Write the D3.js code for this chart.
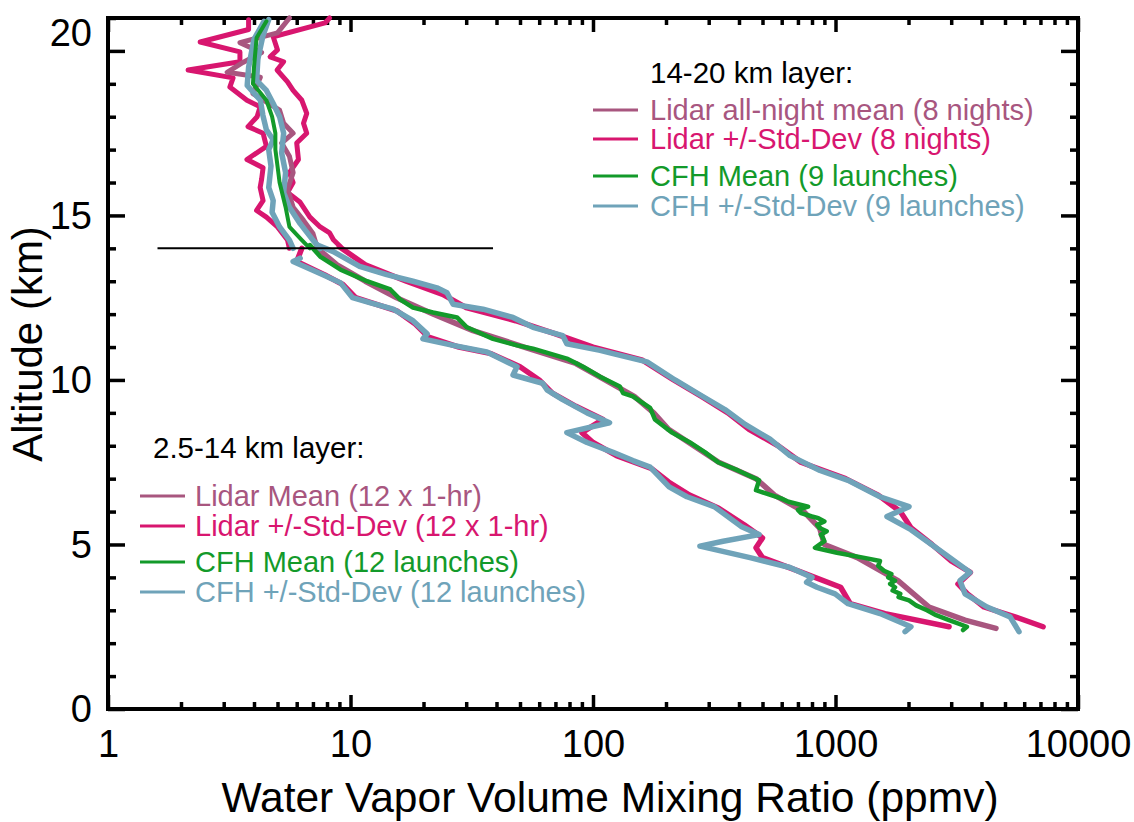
<html>
<head>
<meta charset="utf-8">
<script src="https://d3js.org/d3.v7.min.js"></script>
<style>
	body { margin: 0; background: #fff; }
	text { font-family: "Liberation Sans", Arial, sans-serif; }
</style>
</head>
<body>
<div id="chart"><svg width="1134" height="822"></svg></div>
<script>

// profiles are [altitude km, water vapour ppmv]
// 14-21 km layer
var upperLidarStdLow = [[20.95,3.8],[20.65,3.8],[20.27,2.4],[19.97,3.5],[19.67,3.5],[19.42,2.14],[19.18,3.28],[18.9,3.18],[18.5,3.74],[18.3,4.24],[18.0,4.12],[17.7,3.78],[17.5,4.36],[17.1,4.5],[16.7,3.74],[16.45,4.36],[16.1,4.3],[15.85,4.24],[15.45,4.36],[15.15,4.1],[14.95,4.5],[14.65,5.0],[14.25,5.5],[14.0,5.6]];
var upperLidarStdHigh = [[21.0,8.2],[20.85,7.85],[20.43,4.8],[20.03,5.0],[19.82,4.66],[19.67,5.3],[19.42,4.98],[19.06,5.5],[18.8,5.8],[18.5,6.3],[18.1,6.6],[17.8,6.4],[17.5,6.6],[17.2,6.0],[16.7,6.1],[16.3,5.6],[16.0,5.8],[15.7,5.5],[15.4,6.2],[14.95,6.8],[14.65,7.5],[14.47,8.2],[14.26,8.5],[14.05,9.1]];
var upperLidarMean = [[21.0,5.6],[20.55,5.0],[20.25,3.5],[19.95,4.3],[19.65,3.6],[19.35,3.1],[19.2,4.25],[18.7,3.96],[18.2,5.1],[17.8,5.3],[17.5,5.8],[17.2,5.2],[16.8,5.6],[16.3,5.8],[15.8,5.5],[15.25,5.8],[14.85,6.4],[14.45,7.0],[14.0,7.3]];
var upperCfhStdLow = [[20.9,4.4],[20.35,4.0],[19.5,3.8],[18.95,3.75],[18.5,4.25],[18.05,4.35],[17.6,4.5],[17.3,4.8],[17.0,4.6],[16.5,4.7],[15.85,4.6],[15.45,4.8],[15.1,4.75],[14.65,5.1],[14.25,5.6],[14.0,5.8]];
var upperCfhStdHigh = [[20.95,4.6],[20.45,4.35],[19.75,4.15],[19.1,4.1],[18.8,4.5],[18.4,4.8],[18.0,5.1],[17.5,5.3],[16.9,5.2],[16.3,5.4],[15.7,5.3],[15.25,5.6],[14.75,6.2],[14.25,7.0],[14.0,7.5]];
var upperCfhMean = [[20.9,4.5],[20.4,4.1],[19.5,4.0],[19.0,3.96],[18.5,4.5],[18.0,4.75],[17.5,4.9],[17.0,4.9],[16.5,5.0],[16.0,5.1],[15.25,5.4],[14.65,5.6],[14.25,6.3],[14.0,6.8]];

// 2.5-14 km layer
var lowerLidarStdLow = [[14.0,6.3],[13.6,6.0],[13.2,7.8],[12.9,9.3],[12.5,10.5],[12.1,15.5],[11.7,18.5],[11.3,21],[11.0,28],[10.8,38],[10.4,50],[10.0,60],[9.6,68],[9.2,85],[8.8,110],[8.4,90],[8.1,100],[7.7,125],[7.3,175],[6.9,205],[6.5,250],[6.1,330],[5.6,420],[5.2,500],[4.9,470],[4.6,500],[4.2,700],[3.7,1050],[3.2,1150],[2.9,1600],[2.5,2940]];
var lowerLidarStdHigh = [[14.05,9.0],[13.5,11.5],[13.0,17],[12.6,24],[12.2,30],[11.8,48],[11.4,70],[11.0,100],[10.6,160],[10.0,215],[9.5,280],[9.0,360],[8.5,440],[8.0,580],[7.5,720],[7.0,1100],[6.5,1500],[6.0,1850],[5.5,2050],[5.0,2500],[4.5,3000],[4.15,3600],[3.8,3200],[3.5,3500],[3.1,4100],[2.8,5500],[2.5,7180]];
var lowerLidarMean = [[14.0,7.3],[13.5,8.8],[13.0,11.5],[12.5,15.5],[12.0,22],[11.5,32],[11.0,52],[10.5,85],[10.0,112],[9.5,148],[9.0,178],[8.5,205],[8.0,260],[7.5,330],[7.0,470],[6.5,560],[6.0,740],[5.5,860],[5.0,900],[4.6,1230],[3.9,1810],[3.1,2430],[2.7,3420],[2.45,4590]];
var lowerCfhStdLow = [[13.7,6.2],[13.6,5.8],[13.2,7.7],[12.95,9.1],[12.5,10.2],[12.35,12],[12.15,15],[11.8,18.1],[11.4,20.7],[11.25,19.9],[11.05,26.5],[10.85,36.5],[10.4,48.6],[10.15,46.8],[9.9,62],[9.7,64.6],[9.4,75],[9.0,94.5],[8.7,117],[8.4,78],[8.1,94.5],[7.8,121],[7.55,146],[7.35,172],[6.75,206],[6.45,244],[6.15,316],[5.55,408],[5.3,484],[5.1,344],[4.95,276],[4.6,444],[4.3,649],[4.0,800],[3.85,760],[3.7,839],[3.5,996],[3.2,1127],[2.9,1526],[2.5,2047],[2.35,1936]];
var lowerCfhStdHigh = [[14.1,7.3],[13.9,8.5],[13.45,10.9],[13.2,14.1],[13.0,18.1],[12.8,22.7],[12.65,25],[12.3,26.5],[12.15,35.2],[11.9,46.8],[11.6,56.6],[11.35,75],[11.1,78],[10.9,107],[10.8,121],[10.55,167],[10.0,218],[9.55,276],[9.1,350],[8.65,424],[8.2,537],[7.7,649],[7.25,863],[6.95,1127],[6.45,1526],[6.15,2010],[5.85,1630],[5.45,2047],[4.75,2775],[4.15,3589],[3.9,3260],[3.5,3420],[3.1,4217],[2.8,5248],[2.35,5710]];
var lowerCfhMean = [[14.1,6.8],[13.75,7.5],[13.35,9.1],[13.0,11.7],[12.75,14.6],[12.45,16.0],[12.2,18.1],[12.05,21.9],[11.9,27.5],[11.6,30.2],[11.25,38.7],[11.05,48.6],[10.95,56.6],[10.65,78],[10.4,91],[10.1,107],[9.8,129],[9.6,133],[9.5,146],[9.15,172],[8.8,180],[8.4,212],[8.1,251],[7.8,290],[7.5,328],[7.25,396],[6.95,484],[6.65,470],[6.4,596],[6.3,640],[6.15,771],[6.05,700],[5.95,721],[5.85,800],[5.8,850],[5.7,900],[5.6,840],[5.5,860],[5.4,920],[5.3,870],[5.25,880],[5.1,900],[4.9,823],[4.75,1014],[4.6,1300],[4.5,1526],[4.35,1500],[4.2,1585],[4.1,1700],[4.0,1650],[3.9,1760],[3.8,1680],[3.7,1760],[3.6,1720],[3.5,1850],[3.4,1820],[3.3,2010],[3.15,2150],[3.0,2383],[2.85,2600],[2.7,2938],[2.5,3484],[2.4,3357]];

// black marker at the layer boundary: altitude, from, to (ppmv)
var boundaryLine = [14, 1.6, 38.7];

var xMajorTicks = [1, 10, 100, 1000, 10000];
var yMajorTicks = [0, 5, 10, 15, 20];

var upperTitle = "14-20 km layer:";
var upperLabels = ["Lidar all-night mean (8 nights)", "Lidar +/-Std-Dev (8 nights)", "CFH Mean (9 launches)", "CFH +/-Std-Dev (9 launches)"];
var lowerTitle = "2.5-14 km layer:";
var lowerLabels = ["Lidar Mean (12 x 1-hr)", "Lidar +/-Std-Dev (12 x 1-hr)", "CFH Mean (12 launches)", "CFH +/-Std-Dev (12 launches)"];

var colLidarMean = "#a8567f";
var colLidarStd = "#d8166f";
var colCfhMean = "#139a2a";
var colCfhStd = "#6fa3b9";
var legendColors = [colLidarMean, colLidarStd, colCfhMean, colCfhStd];

var plotLeft = 108, plotRight = 1078, plotTop = 18, plotBottom = 709;
var svg = d3.select("#chart").select("svg");

var x = d3.scaleLog().domain([1, 10000]).range([plotLeft, plotRight]);
var y = d3.scaleLinear().domain([0, 21]).range([plotBottom, plotTop]);

// minor tick values
var xMinor = [];
xMajorTicks.slice(0, 4).forEach(function(d) {
	for (var k = 2; k < 10; k++) xMinor.push(d * k);
});
var yMinor = d3.range(0, 22).filter(function(d) { return d % 5 !== 0; });

function axisStyle(g) {
	g.select(".domain").remove();
	g.selectAll("line").attr("stroke", "#000").attr("stroke-width", 3.5);
}

// bottom
svg.append("g").attr("transform", "translate(0," + plotBottom + ")")
	.call(d3.axisBottom(x).tickValues(xMajorTicks).tickSize(-14).tickPadding(21).tickFormat(d3.format("d")))
	.call(axisStyle)
	.selectAll("text").style("font-size", "38px").attr("fill", "#000");
svg.append("g").attr("transform", "translate(0," + plotBottom + ")")
	.call(d3.axisBottom(x).tickValues(xMinor).tickSize(-7).tickFormat(""))
	.call(axisStyle);
// top
svg.append("g").attr("transform", "translate(0," + plotTop + ")")
	.call(d3.axisTop(x).tickValues(xMajorTicks).tickSize(-14).tickFormat(""))
	.call(axisStyle);
svg.append("g").attr("transform", "translate(0," + plotTop + ")")
	.call(d3.axisTop(x).tickValues(xMinor).tickSize(-7).tickFormat(""))
	.call(axisStyle);
// left
var yl = svg.append("g").attr("transform", "translate(" + plotLeft + ",0)")
	.call(d3.axisLeft(y).tickValues(yMajorTicks).tickSize(-17).tickPadding(16))
	.call(axisStyle);
yl.selectAll("text").style("font-size", "38px").attr("fill", "#000")
	.attr("dy", function(d) { return d === 20 ? "-0.15em" : "0.34em"; });
svg.append("g").attr("transform", "translate(" + plotLeft + ",0)")
	.call(d3.axisLeft(y).tickValues(yMinor).tickSize(-8).tickFormat(""))
	.call(axisStyle);
// right
svg.append("g").attr("transform", "translate(" + plotRight + ",0)")
	.call(d3.axisRight(y).tickValues(yMajorTicks).tickSize(-17).tickFormat(""))
	.call(axisStyle);
svg.append("g").attr("transform", "translate(" + plotRight + ",0)")
	.call(d3.axisRight(y).tickValues(yMinor).tickSize(-8).tickFormat(""))
	.call(axisStyle);

// frame
svg.append("rect")
	.attr("x", plotLeft).attr("y", plotTop)
	.attr("width", plotRight - plotLeft).attr("height", plotBottom - plotTop)
	.attr("fill", "none").attr("stroke", "#000").attr("stroke-width", 4);

// profiles
var line = d3.line()
	.x(function(d) { return x(d[1]); })
	.y(function(d) { return y(d[0]); });

var series = [
	{ data: upperLidarStdLow, color: colLidarStd, width: 5 },
	{ data: upperLidarStdHigh, color: colLidarStd, width: 5 },
	{ data: lowerLidarStdLow, color: colLidarStd, width: 5.5 },
	{ data: lowerLidarStdHigh, color: colLidarStd, width: 5.5 },
	{ data: upperLidarMean, color: colLidarMean, width: 5 },
	{ data: lowerLidarMean, color: colLidarMean, width: 5.5 },
	{ data: upperCfhStdLow, color: colCfhStd, width: 5.5 },
	{ data: upperCfhStdHigh, color: colCfhStd, width: 5.5 },
	{ data: lowerCfhStdLow, color: colCfhStd, width: 5.5 },
	{ data: lowerCfhStdHigh, color: colCfhStd, width: 5.5 },
	{ data: upperCfhMean, color: colCfhMean, width: 4 },
	{ data: lowerCfhMean, color: colCfhMean, width: 4.5 }
];

series.forEach(function(s) {
	svg.append("path")
		.attr("d", line(s.data))
		.attr("fill", "none")
		.attr("stroke", s.color)
		.attr("stroke-width", s.width)
		.attr("stroke-linejoin", "round")
		.attr("stroke-linecap", "round");
});

// layer boundary
svg.append("line")
	.attr("x1", x(boundaryLine[1])).attr("x2", x(boundaryLine[2]))
	.attr("y1", y(boundaryLine[0])).attr("y2", y(boundaryLine[0]))
	.attr("stroke", "#000").attr("stroke-width", 2);

// legends
function drawLegend(tx, ty, lx1, lx2, textX, rows, title, labels) {
	svg.append("text")
		.attr("x", tx).attr("y", ty)
		.attr("dy", "0.35em")
		.style("font-size", "29.5px")
		.attr("fill", "#000")
		.text(title);
	labels.forEach(function(lab, i) {
		svg.append("line")
			.attr("x1", lx1).attr("x2", lx2)
			.attr("y1", rows[i]).attr("y2", rows[i])
			.attr("stroke", legendColors[i]).attr("stroke-width", 3);
		svg.append("text")
			.attr("x", textX).attr("y", rows[i])
			.attr("dy", "0.35em")
			.style("font-size", "29px")
			.attr("fill", legendColors[i])
			.text(lab);
	});
}
drawLegend(650, 73, 593, 638, 650, [110, 139, 176, 206], upperTitle, upperLabels);
drawLegend(153, 448, 140, 185, 195, [496, 526, 562, 592], lowerTitle, lowerLabels);

// axis titles
svg.append("text")
	.attr("x", 610).attr("y", 812)
	.attr("text-anchor", "middle")
	.style("font-size", "42.5px")
	.attr("fill", "#000")
	.text("Water Vapor Volume Mixing Ratio (ppmv)");
svg.append("text")
	.attr("transform", "translate(42,344) rotate(-90)")
	.attr("text-anchor", "middle")
	.style("font-size", "42px")
	.attr("fill", "#000")
	.text("Altitude (km)");

</script>
</body>
</html>
